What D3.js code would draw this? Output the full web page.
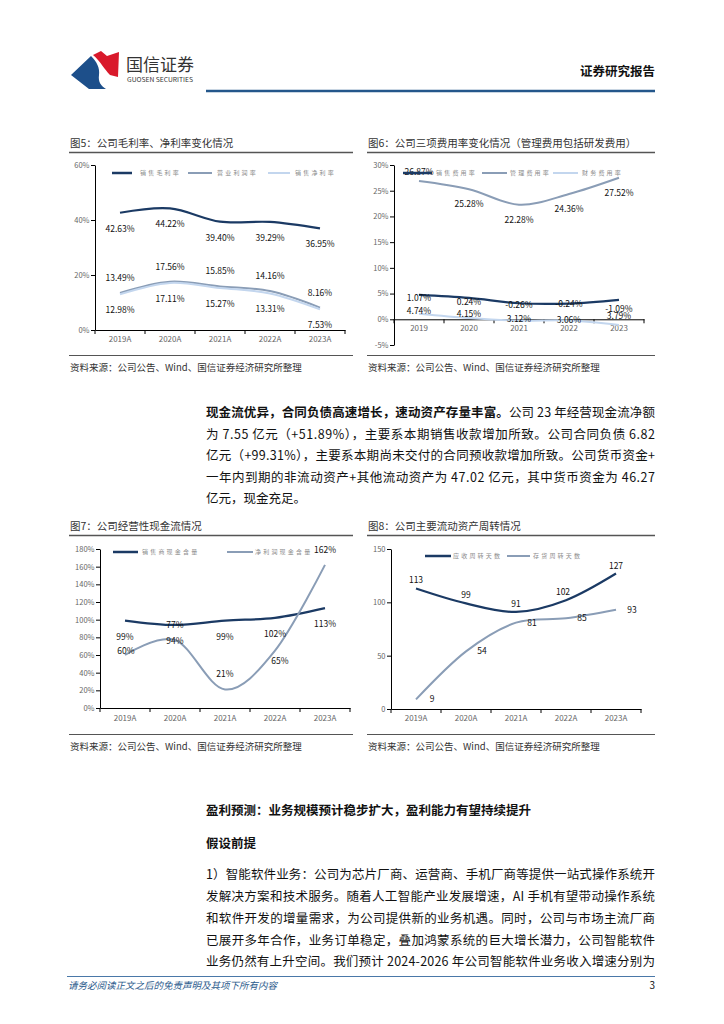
<!DOCTYPE html>
<html><head><meta charset="utf-8">
<script src="https://cdn.jsdelivr.net/npm/d3@7"></script>
<style>
body{margin:0;background:#fff;}
svg text{font-family:"Noto Sans CJK SC","Noto Sans",sans-serif;}
</style></head><body>
<svg id="page" width="724" height="1024"></svg>
<script>
// ---------- DATA ----------
const years = ["2019A","2020A","2021A","2022A","2023A"];
const years6 = ["2019","2020","2021","2022","2023"];

const grossMargin = [42.63,44.22,39.40,39.29,36.95];
const opMargin    = [13.49,17.56,15.85,14.16,8.16];
const netMargin   = [12.98,17.11,15.27,13.31,7.53];
const ticks5 = [0,20,40,60];

const sellExp = [4.74,4.15,3.12,3.06,3.79];
const mgmtExp = [26.87,25.28,22.28,24.36,27.52];
const finExp  = [1.07,0.24,-0.26,-0.24,-1.09];
const ticks6 = [-5,0,5,10,15,20,25,30];

const salesCash  = [99,94,99,102,113];
const profitCash = [60,77,21,65,162];
const ticks7 = [0,20,40,60,80,100,120,140,160,180];

const arDays  = [113,99,91,102,127];
const invDays = [9,54,81,85,93];
const ticks8 = [0,50,100,150];

const NAVY="#1b3a64", GRAYBLUE="#8a9db6", LIGHT="#c3d6ee";

const svg = d3.select("#page");

// ---------- HEADER ----------
const logo = svg.append("g").attr("transform","translate(0,-5)");
logo.append("path").attr("d","M71 80 L91 61 C97 67 100 73 99 80 C98 87 101 91 106 94 L89 94 Z").attr("fill","#1d4f8a");
logo.append("path").attr("d","M93 60 L101 56 L107 61 L119 57 L118 82 L110 80 C104 74 101 67 93 60 Z").attr("fill","#d9192b");
svg.append("text").attr("x",126).attr("y",71).attr("font-size",17).attr("fill","#333").text("国信证券");
svg.append("text").attr("x",127).attr("y",82).attr("font-size",6.3).attr("fill","#333")
  .attr("font-family","Liberation Sans").attr("textLength",66).attr("lengthAdjust","spacingAndGlyphs").text("GUOSEN SECURITIES");
svg.append("text").attr("x",655).attr("y",76).attr("text-anchor","end").attr("font-size",12.5).attr("font-weight",700).attr("fill","#111").text("证券研究报告");
svg.append("line").attr("x1",206).attr("x2",655).attr("y1",91).attr("y2",91).attr("stroke","#24578b").attr("stroke-width",2.5);

// ---------- CHART HELPER ----------
function chart(o){
  const g = svg.append("g");
  g.append("text").attr("x",o.left).attr("y",o.titleY).attr("font-size",10.5).attr("fill","#333").text(o.title);
  g.append("line").attr("x1",o.left-1).attr("x2",o.right).attr("y1",o.titleY+5.5).attr("y2",o.titleY+5.5).attr("stroke","#555").attr("stroke-width",1.5);
  g.append("line").attr("x1",o.left-1).attr("x2",o.right).attr("y1",o.srcY-15).attr("y2",o.srcY-15).attr("stroke","#555").attr("stroke-width",1);
  g.append("text").attr("x",o.left).attr("y",o.srcY).attr("font-size",9.5).attr("fill","#333").text("资料来源：公司公告、Wind、国信证券经济研究所整理");

  const x = d3.scaleBand().domain(o.cats).range([o.x0,o.x1]);
  const y = d3.scaleLinear().domain(o.domain).range([o.yBot,o.yTop]);
  const cx = c => x(c)+x.bandwidth()/2;

  const ya = g.append("g").attr("transform",`translate(${o.x0},0)`)
    .call(d3.axisLeft(y).tickValues(o.ticks).tickSize(4).tickSizeOuter(0).tickPadding(1.5).tickFormat(o.fmt));
  const xa = g.append("g").attr("transform",`translate(0,${y(o.base)})`)
    .call(d3.axisBottom(x).tickSize(0).tickSizeOuter(0).tickPadding(o.xPad));
  [ya,xa].forEach(a=>{
    a.selectAll("path,line").attr("stroke","#000").attr("stroke-width",1);
    a.selectAll("text").attr("font-family","Liberation Sans").attr("font-size",7.5).attr("fill","#666");
  });
  xa.selectAll("text").attr("font-size",8);
  const bounds = o.cats.map(c=>x(c)).concat([o.x1]);
  g.selectAll(null).data(bounds).join("line")
    .attr("x1",d=>d).attr("x2",d=>d).attr("y1",y(o.base)).attr("y2",y(o.base)+4)
    .attr("stroke","#000").attr("stroke-width",1);

  o.series.forEach(s=>{
    const line = d3.line().x((d,i)=>cx(o.cats[i])).y(d=>y(d)).curve(d3.curveCardinal.tension(0));
    g.append("path").attr("d",line(s.values)).attr("fill","none").attr("stroke",s.color).attr("stroke-width",s.w||2);
  });
  o.series.forEach(s=>{
    g.selectAll(null).data(s.values).join("text")
      .attr("x",(d,i)=>cx(o.cats[i])+s.off(i)[0])
      .attr("y",(d,i)=>y(d)+s.off(i)[1])
      .attr("dy","0.35em").attr("text-anchor","middle")
      .attr("font-family","Liberation Sans").attr("font-size",8.5).attr("fill","#111")
      .text(d=>o.lab(d));
  });
  o.series.forEach((s,k)=>{
    const L=o.legend[k];
    g.append("line").attr("x1",L[0]).attr("x2",L[1]).attr("y1",o.legY).attr("y2",o.legY).attr("stroke",s.color).attr("stroke-width",s.lw||2);
    g.append("text").attr("x",L[2]).attr("y",o.legY).attr("dy","0.35em").attr("font-size",6).attr("letter-spacing",2.2)
      .attr("fill","#8c8c8c").text(s.name);
  });
}

const pct2 = d=>d.toFixed(2)+"%";

chart({title:"图5：公司毛利率、净利率变化情况", left:70, right:353, titleY:147, srcY:370.5,
  cats:years, x0:95, x1:345, yTop:165, yBot:330, domain:[0,60], ticks:ticks5, fmt:d=>d+"%", base:0, xPad:6,
  lab:pct2, legY:173, legend:[[112,132,140],[188,212,217],[268,290,295]],
  series:[
    {name:"销售毛利率", values:grossMargin, color:NAVY, w:2.2, lw:2.5, off:i=>[0,16]},
    {name:"营业利润率", values:opMargin, color:GRAYBLUE, w:2, off:i=>[0,-15]},
    {name:"销售净利率", values:netMargin, color:LIGHT, w:2, off:i=>[0,16]}
  ]});

chart({title:"图6：公司三项费用率变化情况（管理费用包括研发费用）", left:368, right:655, titleY:147, srcY:370.5,
  cats:years6, x0:394, x1:644, yTop:165, yBot:345, domain:[-5,30], ticks:ticks6, fmt:d=>d+"%", base:0, xPad:6,
  lab:pct2, legY:173, legend:[[403,432,436],[482,507,510],[553,578,582]],
  series:[
    {name:"销售费用率", values:sellExp, color:NAVY, w:2.2, lw:2.5, off:i=>[0,16]},
    {name:"管理费用率", values:mgmtExp, color:GRAYBLUE, w:2, off:i=>i===0?[0,-9]:[0,15]},
    {name:"财务费用率", values:finExp, color:LIGHT, w:2, off:i=>[0,-16]}
  ]});

chart({title:"图7：公司经营性现金流情况", left:70, right:353, titleY:530, srcY:749.5,
  cats:years, x0:100, x1:350, yTop:549, yBot:708, domain:[0,180], ticks:ticks7, fmt:d=>d+"%", base:0, xPad:7,
  lab:d=>d+"%", legY:552, legend:[[113,138,142],[227,253,255]],
  series:[
    {name:"销售商现金含量", values:salesCash, color:NAVY, w:2.2, lw:2.5, off:i=>[0,16]},
    {name:"净利润现金含量", values:profitCash, color:GRAYBLUE, w:2, off:i=>i===0?[1,-4]:(i===3?[5,10]:[0,-15])}
  ]});

chart({title:"图8：公司主要流动资产周转情况", left:368, right:655, titleY:530, srcY:749.5,
  cats:years, x0:391, x1:641, yTop:549, yBot:709, domain:[0,150], ticks:ticks8, fmt:d=>d, base:0, xPad:6,
  lab:d=>d, legY:556, legend:[[425,451,453],[507,530,533]],
  series:[
    {name:"应收周转天数", values:arDays, color:NAVY, w:2.2, lw:2.5, off:i=>[i===3?-3:0,-8]},
    {name:"存货周转天数", values:invDays, color:GRAYBLUE, w:2, off:i=>[16,0]}
  ]});

// ---------- BODY TEXT ----------
function para(lines, x, w, fs){
  lines.forEach(l=>{
    const t = svg.append("text").attr("x",x).attr("y",l.y).attr("font-size",fs).attr("fill","#111");
    if(l.full) t.attr("textLength",w).attr("lengthAdjust","spacing");
    l.parts.forEach(p=>{
      t.append("tspan").attr("font-weight",p.b?700:400).text(p.t);
    });
  });
}
para([
  {y:417, full:true, parts:[{t:"现金流优异，合同负债高速增长，速动资产存量丰富。",b:1},{t:"公司 23 年经营现金流净额"}]},
  {y:439, full:true, parts:[{t:"为 7.55 亿元（+51.89%），主要系本期销售收款增加所致。公司合同负债 6.82"}]},
  {y:460, full:true, parts:[{t:"亿元（+99.31%），主要系本期尚未交付的合同预收款增加所致。公司货币资金+"}]},
  {y:482, full:true, parts:[{t:"一年内到期的非流动资产+其他流动资产为 47.02 亿元，其中货币资金为 46.27"}]},
  {y:503, full:false, parts:[{t:"亿元，现金充足。"}]},
  {y:815, full:false, parts:[{t:"盈利预测：业务规模预计稳步扩大，盈利能力有望持续提升",b:1}]},
  {y:848, full:false, parts:[{t:"假设前提",b:1}]},
  {y:879, full:true, parts:[{t:"1）智能软件业务：公司为芯片厂商、运营商、手机厂商等提供一站式操作系统开"}]},
  {y:901, full:true, parts:[{t:"发解决方案和技术服务。随着人工智能产业发展增速，AI 手机有望带动操作系统"}]},
  {y:923, full:true, parts:[{t:"和软件开发的增量需求，为公司提供新的业务机遇。同时，公司与市场主流厂商"}]},
  {y:945, full:true, parts:[{t:"已展开多年合作，业务订单稳定，叠加鸿蒙系统的巨大增长潜力，公司智能软件"}]},
  {y:966, full:true, parts:[{t:"业务仍然有上升空间。我们预计 2024-2026 年公司智能软件业务收入增速分别为"}]}
], 206, 449, 12.5);

// ---------- FOOTER ----------
svg.append("line").attr("x1",67).attr("x2",655).attr("y1",976.5).attr("y2",976.5).attr("stroke","#4a78a8").attr("stroke-width",1);
svg.append("text").attr("x",68).attr("y",989).attr("font-size",9.5).attr("font-style","italic").attr("fill","#2b5a8c").text("请务必阅读正文之后的免责声明及其项下所有内容");
svg.append("text").attr("x",655).attr("y",989).attr("text-anchor","end").attr("font-size",10).attr("fill","#111").text("3");
</script>
</body></html>
